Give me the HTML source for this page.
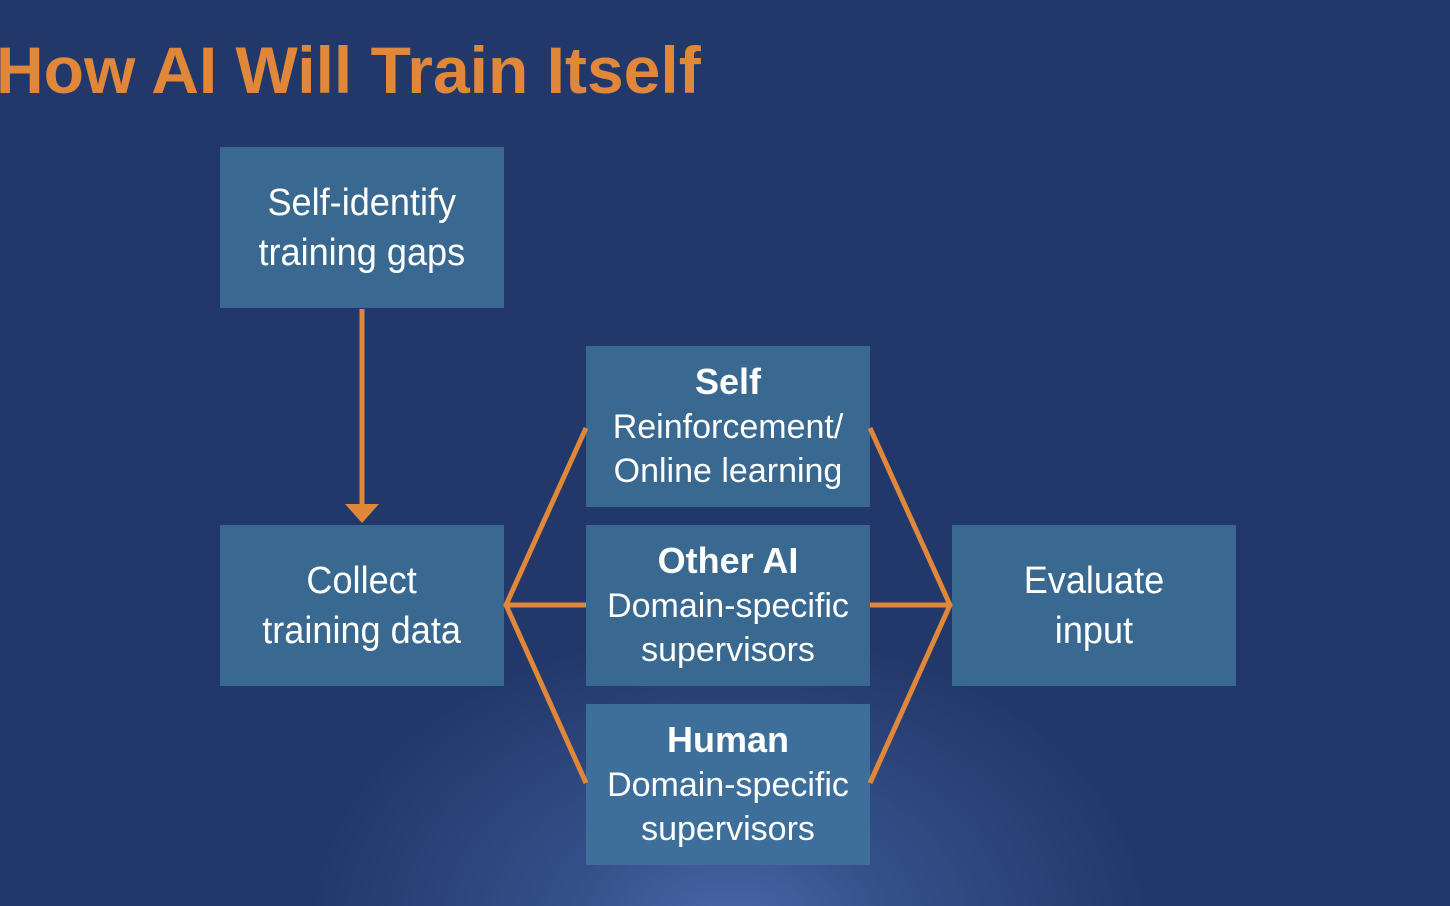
<!DOCTYPE html>
<html><head><style>
body{margin:0;width:1450px;height:906px;overflow:hidden;position:relative;font-family:"Liberation Sans",sans-serif;
background:radial-gradient(ellipse 420px 300px at 730px 930px,#4a67a8 0%,#34508a 40%,rgba(35,56,106,0) 100%),#23386a;}
.t{position:absolute;left:-4px;top:32px;color:#e0873a;font-weight:bold;font-size:66px;white-space:nowrap;transform:scaleX(1.0);transform-origin:left top;}
.b{position:absolute;width:284px;height:161px;background:#396890;color:#fff;display:flex;align-items:center;justify-content:center;text-align:center;}
.b div{transform:scaleX(0.95);font-size:38px;line-height:50px;white-space:nowrap;}
.s div{font-size:34px;line-height:44px;transform:none;}
.s b{font-size:36px;}
</style></head><body>
<div class="t">How AI Will Train Itself</div>
<div class="b" style="left:220px;top:147px"><div>Self-identify<br>training gaps</div></div>
<div class="b" style="left:220px;top:525px"><div>Collect<br>training data</div></div>
<div class="b s" style="left:586px;top:346px"><div><b>Self</b><br>Reinforcement/<br>Online learning</div></div>
<div class="b s" style="left:586px;top:525px"><div><b>Other AI</b><br>Domain-specific<br>supervisors</div></div>
<div class="b s" style="left:586px;top:704px;background:#3d6f9a"><div><b>Human</b><br>Domain-specific<br>supervisors</div></div>
<div class="b" style="left:952px;top:525px"><div>Evaluate<br>input</div></div>
<svg width="1450" height="906" style="position:absolute;left:0;top:0" fill="none" stroke="#e0873a" stroke-width="5">
<line x1="362" y1="309" x2="362" y2="508"/>
<polygon points="345,504 379,504 362,523" fill="#e0873a" stroke="none"/>
<polyline points="586,428 506,605 586,783"/>
<line x1="506" y1="605" x2="586" y2="605"/>
<polyline points="870,428 950,605 870,783"/>
<line x1="870" y1="605" x2="950" y2="605"/>
</svg>
</body></html>
